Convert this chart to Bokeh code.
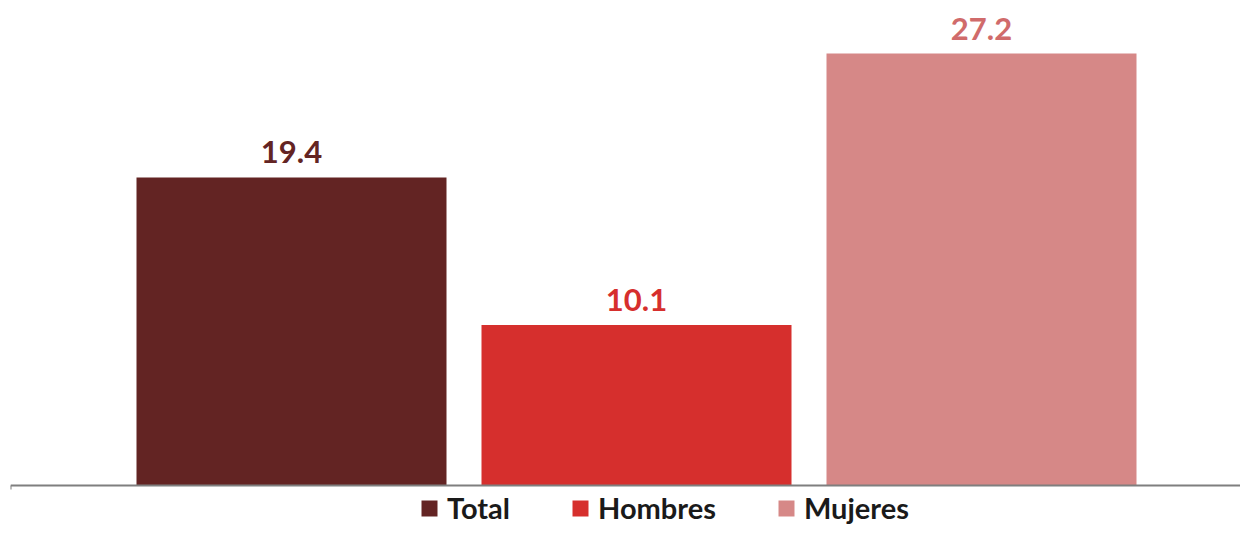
from bokeh.plotting import figure
from bokeh.models import ColumnDataSource, Range1d, Legend, LegendItem, FixedTicker
from bokeh.core.properties import value
from bokeh.embed import file_html
from bokeh.resources import INLINE

categories = ["Total", "Hombres", "Mujeres"]
values = [19.4, 10.1, 27.2]
colors = ["#632423", "#D62F2D", "#D68887"]
label_colors = ["#632423", "#D62F2D", "#D06B6B"]
labels = ["19.4", "10.1", "27.2"]

xs = [0, 1, 2]
src = ColumnDataSource(dict(x=xs, top=values, color=colors, lcolor=label_colors,
                            label=labels, cat=categories))

W, H = 1240, 525
frame_left = 10
base_y = 485
frame_w = W - frame_left
x_start = -(291 - frame_left) / 345
x_end = x_start + frame_w / 345
ppu = (base_y - 53) / 27.2
y_start = -(H - base_y) / ppu
y_end = base_y / ppu

p = figure(width=W, height=H, output_backend="svg", toolbar_location=None,
           x_range=Range1d(x_start, x_end), y_range=Range1d(y_start, y_end),
           min_border_left=frame_left, min_border_right=0, min_border_top=0,
           min_border_bottom=0)
p.outline_line_color = None
p.grid.visible = False
p.yaxis.visible = False
p.background_fill_color = "white"
p.border_fill_color = "white"

r = p.vbar(x="x", top="top", width=310 / 345, bottom=0, source=src,
           fill_color="color", line_color=None)
p.text(x="x", y="top", text="label", source=src, text_color="lcolor",
       text_align="center", text_baseline="bottom", y_offset=-14,
       text_font_size="31px", text_font_style="bold", text_font=value("Lato"))

ax = p.xaxis[0]
ax.fixed_location = 0
ax.ticker = FixedTicker(ticks=[x_start])
ax.major_label_text_font_size = "0px"
ax.major_label_text_color = None
ax.axis_line_color = "#7F7F7F"
ax.axis_line_width = 2
ax.major_tick_line_color = "#7F7F7F"
ax.major_tick_line_width = 2
ax.major_tick_out = 4
ax.major_tick_in = 0
ax.minor_tick_line_color = None

items = [LegendItem(label=c, renderers=[r], index=i) for i, c in enumerate(categories)]
legend = Legend(items=items, orientation="horizontal", location=(409, 0),
                glyph_width=20, glyph_height=20, label_standoff=8, spacing=60,
                padding=0, margin=0, border_line_color=None,
                background_fill_alpha=0, label_text_font="Lato",
                label_text_font_style="bold", label_text_font_size="29px",
                label_text_color="#1A1A1A")
p.add_layout(legend, "center")

open("out.html", "w").write(file_html(p, INLINE))
